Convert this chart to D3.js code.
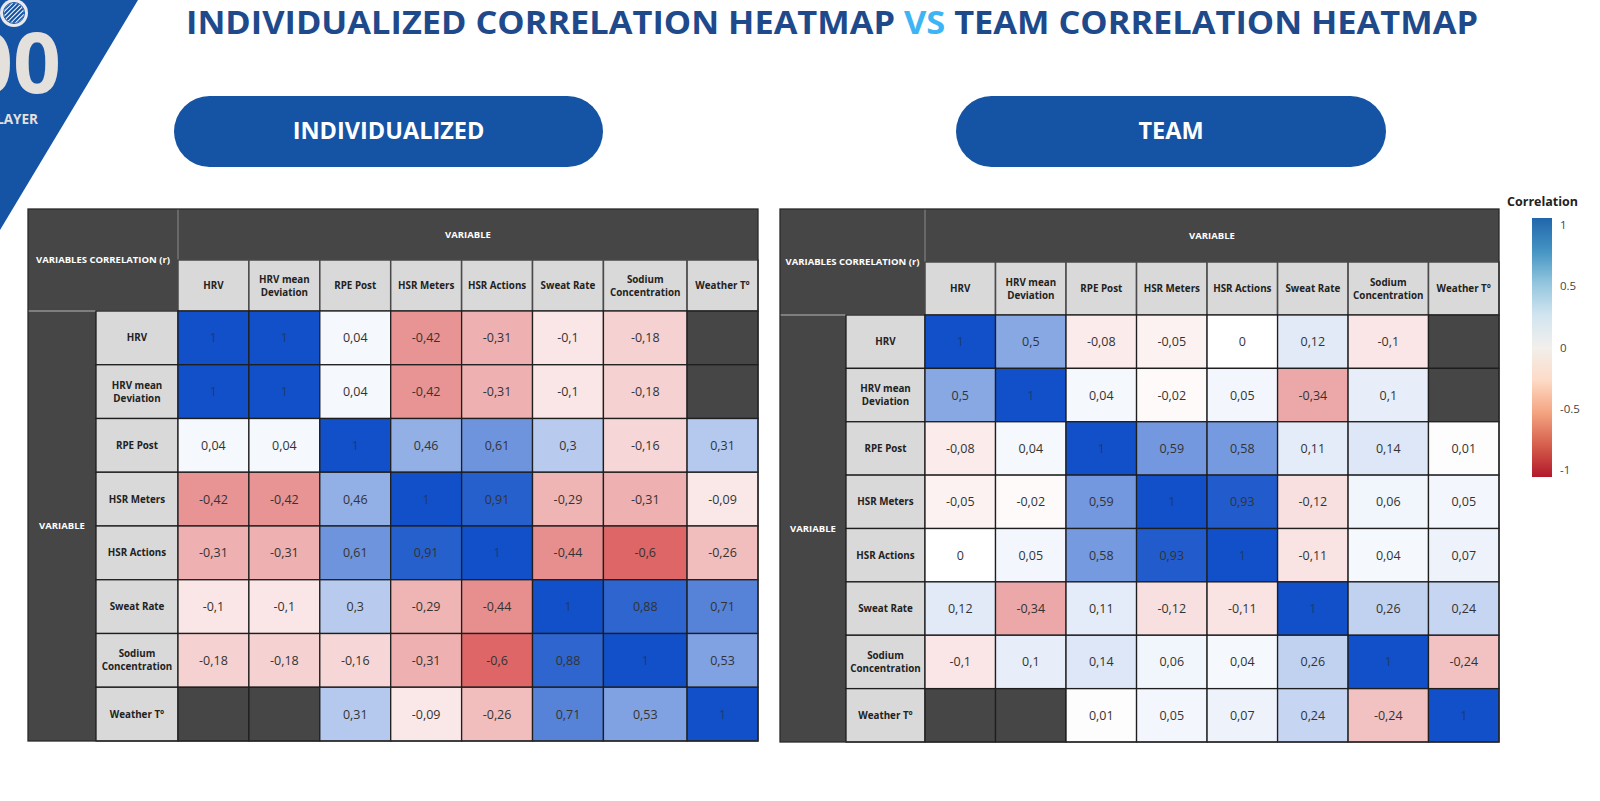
<!DOCTYPE html>
<html lang="en">
<head>
  <meta charset="UTF-8" />
  <title>Correlation heatmaps</title>
  <script src="https://d3js.org/d3.v7.min.js"></script>
  <style>
    body { margin: 0; background: #fff; }
    svg { display: block; font-family: "Open Sans", sans-serif; }
  </style>
</head>
<body>
  <script>
    // variables (rows and columns are the same list)
    const variables = ['HRV', 'HRV mean Deviation', 'RPE Post', 'HSR Meters', 'HSR Actions', 'Sweat Rate', 'Sodium Concentration', 'Weather T°'];

    // individualized correlation matrix (null = no value)
    const individualized = [
      [1, 1, 0.04, -0.42, -0.31, -0.1, -0.18, null],
      [1, 1, 0.04, -0.42, -0.31, -0.1, -0.18, null],
      [0.04, 0.04, 1, 0.46, 0.61, 0.3, -0.16, 0.31],
      [-0.42, -0.42, 0.46, 1, 0.91, -0.29, -0.31, -0.09],
      [-0.31, -0.31, 0.61, 0.91, 1, -0.44, -0.6, -0.26],
      [-0.1, -0.1, 0.3, -0.29, -0.44, 1, 0.88, 0.71],
      [-0.18, -0.18, -0.16, -0.31, -0.6, 0.88, 1, 0.53],
      [null, null, 0.31, -0.09, -0.26, 0.71, 0.53, 1]
    ];

    // team correlation matrix
    const team = [
      [1, 0.5, -0.08, -0.05, 0, 0.12, -0.1, null],
      [0.5, 1, 0.04, -0.02, 0.05, -0.34, 0.1, null],
      [-0.08, 0.04, 1, 0.59, 0.58, 0.11, 0.14, 0.01],
      [-0.05, -0.02, 0.59, 1, 0.93, -0.12, 0.06, 0.05],
      [0, 0.05, 0.58, 0.93, 1, -0.11, 0.04, 0.07],
      [0.12, -0.34, 0.11, -0.12, -0.11, 1, 0.26, 0.24],
      [-0.1, 0.1, 0.14, 0.06, 0.04, 0.26, 1, -0.24],
      [null, null, 0.01, 0.05, 0.07, 0.24, -0.24, 1]
    ];

    const legendTicks = [1, 0.5, 0, -0.5, -1];
    const legendStops = ['#b2182b', '#d6604d', '#f4a582', '#fddbc7', '#f2efec', '#d1e5f0', '#92c5de', '#4393c3', '#2166ac'];

    const width = 1600, height = 801;
    const dark = '#464646', light = '#d9d9d9', blue = '#1553a5';

    const cellColor = d3.scaleLinear()
      .domain([-1, 0, 1])
      .range(['rgb(200,0,0)', '#ffffff', 'rgb(17,80,200)']);

    const fmt = v => String(v).replace('.', ',');
    const lines = s => {
      if (s.length <= 12) return [s];
      const i = s.lastIndexOf(' ');
      return [s.slice(0, i), s.slice(i + 1)];
    };

    const svg = d3.select('body').append('svg')
      .attr('width', width)
      .attr('height', height);

    svg.append('rect').attr('width', width).attr('height', height).attr('fill', '#fff');

    //corner badge
    const badge = svg.append('g');
    badge.append('path')
      .attr('d', 'M0,0 L138,0 L0,230 Z')
      .attr('fill', blue);
    badge.append('text')
      .attr('x', 61).attr('y', 93)
      .attr('text-anchor', 'end')
      .attr('font-size', 84).attr('font-weight', 700)
      .attr('fill', '#e4e0dc')
      .text('00');
    badge.append('text')
      .attr('x', 38).attr('y', 124)
      .attr('text-anchor', 'end')
      .attr('font-size', 13.5).attr('font-weight', 700)
      .attr('fill', '#e4e0dc')
      .text('PLAYER');
    svg.append('clipPath').attr('id', 'crest')
      .append('circle').attr('cx', 14).attr('cy', 13).attr('r', 10);
    badge.append('circle').attr('cx', 14).attr('cy', 13).attr('r', 14).attr('fill', '#e8e8ee');
    badge.append('circle').attr('cx', 14).attr('cy', 13).attr('r', 10.5).attr('fill', '#fff')
      .attr('stroke', blue).attr('stroke-width', 1);
    badge.append('g').attr('clip-path', 'url(#crest)')
      .selectAll('line')
      .data(d3.range(-3, 4))
      .join('line')
      .attr('x1', d => 14 + d * 4.5 - 12).attr('y1', 25)
      .attr('x2', d => 14 + d * 4.5 + 12).attr('y2', 1)
      .attr('stroke', blue).attr('stroke-width', 2.2);

    //title
    const title = svg.append('text')
      .attr('x', 832).attr('y', 34)
      .attr('text-anchor', 'middle')
      .attr('font-size', 33).attr('font-weight', 700)
      .attr('fill', '#1e4a8b')
      .attr('textLength', 1292)
      .attr('lengthAdjust', 'spacingAndGlyphs');
    title.append('tspan').text('INDIVIDUALIZED CORRELATION HEATMAP ');
    title.append('tspan').attr('fill', '#3db5f4').text('VS');
    title.append('tspan').text(' TEAM CORRELATION HEATMAP');

    const panels = [
      { name: 'INDIVIDUALIZED', values: individualized, pill: [174, 603], sodiumW: 1.18,
        x0: 28, xVar: 96, xLab: 178, x1: 758, y0: 209, yHead: 260, yCols: 311, y1: 741 },
      { name: 'TEAM', values: team, pill: [956, 1386], sodiumW: 1.14,
        x0: 780, xVar: 846, xLab: 925, x1: 1499, y0: 209, yHead: 262, yCols: 315, y1: 742 }
    ];

    panels.forEach(p => {
      const g = svg.append('g');

      // pill
      g.append('rect')
        .attr('x', p.pill[0]).attr('y', 96)
        .attr('width', p.pill[1] - p.pill[0]).attr('height', 71)
        .attr('rx', 35.5)
        .attr('fill', blue);
      g.append('text')
        .attr('x', (p.pill[0] + p.pill[1]) / 2).attr('y', 139)
        .attr('text-anchor', 'middle')
        .attr('font-size', 23.5).attr('font-weight', 700)
        .attr('fill', '#fff')
        .text(p.name);

      // column scale with a wider sodium column
      const weights = variables.map(v => v === 'Sodium Concentration' ? p.sodiumW : 1);
      const cum = [0];
      weights.forEach(w => cum.push(cum[cum.length - 1] + w));
      const xs = d3.scaleLinear().domain([0, cum[cum.length - 1]]).range([p.xLab, p.x1]);
      const colX = i => xs(cum[i]);
      const colW = i => xs(cum[i + 1]) - xs(cum[i]);

      const y = d3.scaleBand().domain(variables).range([p.yCols, p.y1]);

      // dark background blocks
      g.append('rect')
        .attr('x', p.x0).attr('y', p.y0)
        .attr('width', p.x1 - p.x0).attr('height', p.yCols - p.y0)
        .attr('fill', dark);
      g.append('rect')
        .attr('x', p.x0).attr('y', p.yCols)
        .attr('width', p.xVar - p.x0).attr('height', p.y1 - p.yCols)
        .attr('fill', dark);
      g.append('line')
        .attr('x1', p.xLab).attr('x2', p.xLab).attr('y1', p.y0).attr('y2', p.yHead)
        .attr('stroke', '#8a8a8a').attr('stroke-width', 1);
      g.append('line')
        .attr('x1', p.x0).attr('x2', p.xLab).attr('y1', p.yCols).attr('y2', p.yCols)
        .attr('stroke', '#b5b5b5').attr('stroke-width', 1.2);

      g.append('text')
        .attr('x', (p.x0 + p.xLab) / 2).attr('y', (p.y0 + p.yCols) / 2 + 3)
        .attr('text-anchor', 'middle')
        .attr('font-size', 9.5).attr('font-weight', 700).attr('fill', '#fff')
        .text('VARIABLES CORRELATION (r)');
      g.append('text')
        .attr('x', (p.xLab + p.x1) / 2).attr('y', (p.y0 + p.yHead) / 2 + 3)
        .attr('text-anchor', 'middle')
        .attr('font-size', 9.5).attr('font-weight', 700).attr('fill', '#fff')
        .text('VARIABLE');
      g.append('text')
        .attr('x', (p.x0 + p.xVar) / 2).attr('y', (p.yCols + p.y1) / 2 + 3)
        .attr('text-anchor', 'middle')
        .attr('font-size', 9.5).attr('font-weight', 700).attr('fill', '#fff')
        .text('VARIABLE');

      // column headers
      const colHead = g.selectAll('.colhead')
        .data(variables)
        .join('g')
        .attr('class', 'colhead');
      colHead.append('rect')
        .attr('x', (d, i) => colX(i)).attr('y', p.yHead)
        .attr('width', (d, i) => colW(i)).attr('height', p.yCols - p.yHead)
        .attr('fill', light)
        .attr('stroke', '#4a4a4a').attr('stroke-width', 1.5);
      colHead.each(function (d, i) {
        const ls = lines(d);
        const cy = (p.yHead + p.yCols) / 2;
        d3.select(this).selectAll('text')
          .data(ls)
          .join('text')
          .attr('x', colX(i) + colW(i) / 2)
          .attr('y', (t, k) => cy + 3.5 + (k - (ls.length - 1) / 2) * 13)
          .attr('text-anchor', 'middle')
          .attr('font-size', 9.8).attr('font-weight', 700).attr('fill', '#222')
          .text(t => t);
      });

      // row headers
      const rowHead = g.selectAll('.rowhead')
        .data(variables)
        .join('g')
        .attr('class', 'rowhead');
      rowHead.append('rect')
        .attr('x', p.xVar).attr('y', d => y(d))
        .attr('width', p.xLab - p.xVar).attr('height', y.bandwidth())
        .attr('fill', light)
        .attr('stroke', '#1e1e1e').attr('stroke-width', 1.3);
      rowHead.each(function (d) {
        const ls = lines(d);
        const cy = y(d) + y.bandwidth() / 2;
        d3.select(this).selectAll('text')
          .data(ls)
          .join('text')
          .attr('x', (p.xVar + p.xLab) / 2)
          .attr('y', (t, k) => cy + 3.5 + (k - (ls.length - 1) / 2) * 13)
          .attr('text-anchor', 'middle')
          .attr('font-size', 9.8).attr('font-weight', 700).attr('fill', '#222')
          .text(t => t);
      });

      // cells
      const cells = [];
      p.values.forEach((row, r) => row.forEach((v, c) => cells.push({ r, c, v })));

      const cell = g.selectAll('.cell')
        .data(cells)
        .join('g')
        .attr('class', 'cell');
      cell.append('rect')
        .attr('x', d => colX(d.c)).attr('y', d => y(variables[d.r]))
        .attr('width', d => colW(d.c)).attr('height', y.bandwidth())
        .attr('fill', d => d.v === null ? dark : cellColor(d.v))
        .attr('stroke', '#1e1e1e').attr('stroke-width', 1.3);
      cell.filter(d => d.v !== null)
        .append('text')
        .attr('x', d => colX(d.c) + colW(d.c) / 2)
        .attr('y', d => y(variables[d.r]) + y.bandwidth() / 2 + 4.5)
        .attr('text-anchor', 'middle')
        .attr('font-size', 12.5)
        .attr('fill', d => d.v === 1 ? '#1d3a72' : '#333')
        .text(d => fmt(d.v));

      // outer border
      g.append('rect')
        .attr('x', p.x0).attr('y', p.y0)
        .attr('width', p.x1 - p.x0).attr('height', p.y1 - p.y0)
        .attr('fill', 'none')
        .attr('stroke', '#2a2a2a').attr('stroke-width', 1.3);
    });

    //legend
    const ly = d3.scaleLinear().domain([1, -1]).range([225, 470]);
    const defs = svg.append('defs');
    const grad = defs.append('linearGradient')
      .attr('id', 'corrgrad')
      .attr('x1', 0).attr('x2', 0).attr('y1', 1).attr('y2', 0);
    grad.selectAll('stop')
      .data(legendStops)
      .join('stop')
      .attr('offset', (d, i) => i / (legendStops.length - 1))
      .attr('stop-color', d => d);

    const legend = svg.append('g').attr('id', 'legend');
    legend.append('text')
      .attr('x', 1507).attr('y', 206)
      .attr('font-size', 12.5).attr('font-weight', 700).attr('fill', '#222')
      .text('Correlation');
    legend.append('rect')
      .attr('x', 1532).attr('y', ly(1) - 7)
      .attr('width', 20).attr('height', ly(-1) - ly(1) + 14)
      .attr('fill', 'url(#corrgrad)');
    legend.selectAll('.tick')
      .data(legendTicks)
      .join('text')
      .attr('class', 'tick')
      .attr('x', 1560).attr('y', d => ly(d) + 4)
      .attr('font-size', 11.5).attr('fill', '#444')
      .text(d => d);
  </script>
</body>
</html>
